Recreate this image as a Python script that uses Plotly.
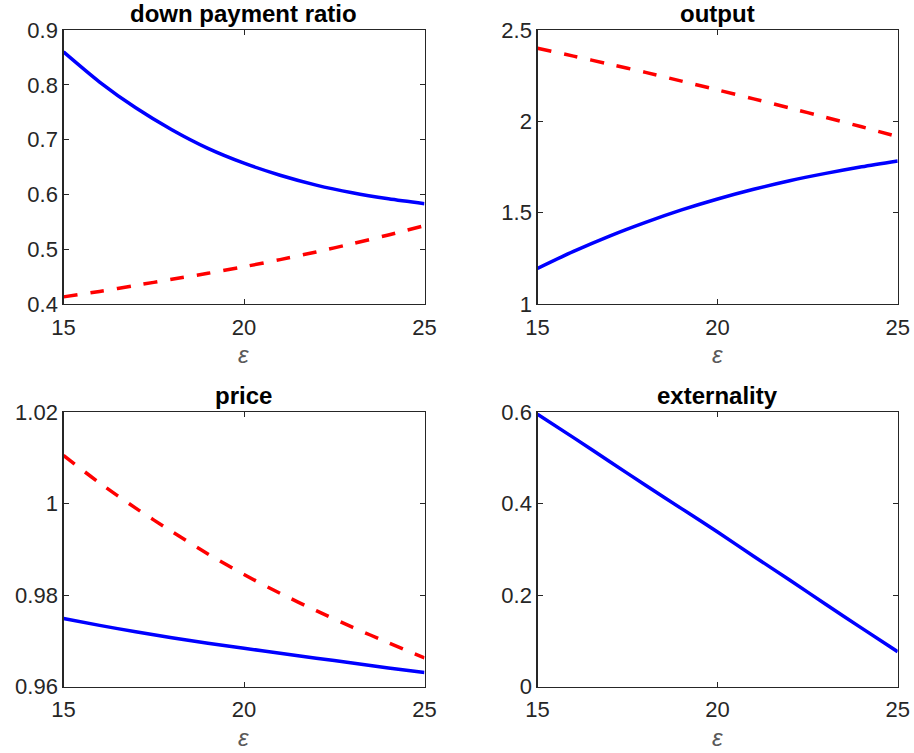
import plotly.graph_objects as go

# ---- data ----
eps = [15, 16, 17, 18, 19, 20, 21, 22, 23, 24, 25]

dpr_blue = [0.860, 0.805, 0.758, 0.718, 0.684, 0.657, 0.635, 0.617, 0.603, 0.592, 0.583]
dpr_red = [0.413, 0.423, 0.434, 0.445, 0.456, 0.468, 0.481, 0.495, 0.510, 0.526, 0.543]

out_blue = [1.195, 1.288, 1.372, 1.447, 1.515, 1.575, 1.628, 1.675, 1.715, 1.751, 1.783]
out_red = [2.400, 2.357, 2.313, 2.268, 2.220, 2.172, 2.123, 2.073, 2.022, 1.970, 1.916]

price_blue = [0.9749, 0.9734, 0.9720, 0.9707, 0.9695, 0.9684, 0.9673, 0.9662, 0.9652, 0.9641, 0.9631]
price_red = [1.0105, 1.0045, 0.9990, 0.9939, 0.9890, 0.9845, 0.9804, 0.9766, 0.9730, 0.9696, 0.9663]

ext_blue = [0.595, 0.544, 0.492, 0.440, 0.389, 0.338, 0.285, 0.233, 0.180, 0.128, 0.0765]

titles = ["down payment ratio", "output", "price", "externality"]
x_ticks = [15, 20, 25]
x_ticktext = ["15", "20", "25"]
y_ticks = [
    [0.4, 0.5, 0.6, 0.7, 0.8, 0.9],
    [1, 1.5, 2, 2.5],
    [0.96, 0.98, 1.0, 1.02],
    [0, 0.2, 0.4, 0.6],
]
y_ticktext = [
    ["0.4", "0.5", "0.6", "0.7", "0.8", "0.9"],
    ["1", "1.5", "2", "2.5"],
    ["0.96", "0.98", "1", "1.02"],
    ["0", "0.2", "0.4", "0.6"],
]
y_ranges = [[0.4, 0.9], [1, 2.5], [0.96, 1.02], [0, 0.6]]
x_label = "<i>ε</i>"

W, H = 914, 753
FONT = "Liberation Sans, Arial, sans-serif"
AXC = "#262626"

# plot-area boxes in pixels (left, right, top, bottom)
boxes = [
    (63.5, 424.5, 30, 304),
    (537.5, 897.7, 30, 304),
    (63.5, 424.5, 412, 686.7),
    (537.5, 897.7, 412, 686.7),
]

fig = go.Figure()

series = [
    [(dpr_blue, "blue"), (dpr_red, "red")],
    [(out_blue, "blue"), (out_red, "red")],
    [(price_blue, "blue"), (price_red, "red")],
    [(ext_blue, "blue")],
]

for i in range(4):
    xa = "x" if i == 0 else f"x{i+1}"
    ya = "y" if i == 0 else f"y{i+1}"
    for vals, col in series[i]:
        if col == "blue":
            line = dict(color="#0000FF", width=3.5, shape="spline", smoothing=0.8)
        else:
            line = dict(color="#FF0000", width=3.5, dash="14px,13px", shape="spline", smoothing=0.8)
        fig.add_trace(go.Scatter(x=eps, y=vals, mode="lines", line=line,
                                 xaxis=xa, yaxis=ya, showlegend=False, hoverinfo="skip"))

    l, r, t, b = boxes[i]
    xdom = [l / W, r / W]
    ydom = [1 - b / H, 1 - t / H]
    axis_common = dict(
        showline=True, mirror="ticks", linecolor=AXC, linewidth=1.2,
        ticks="inside", ticklen=5, tickwidth=1, tickcolor=AXC,
        showgrid=False, zeroline=False, automargin=False,
        tickfont=dict(family=FONT, size=22, color=AXC),
    )
    xkey = "xaxis" if i == 0 else f"xaxis{i+1}"
    ykey = "yaxis" if i == 0 else f"yaxis{i+1}"
    fig.update_layout({
        xkey: dict(domain=xdom, range=[15, 25], tickvals=x_ticks, ticktext=x_ticktext,
                   anchor=ya, ticklabelstandoff=3, **axis_common),
        ykey: dict(domain=ydom, range=y_ranges[i], tickvals=y_ticks[i], ticktext=y_ticktext[i],
                   anchor=xa, **axis_common),
    })
    # subplot title
    fig.add_annotation(text=f"<b>{titles[i]}</b>", xref="paper", yref="paper",
                       x=(xdom[0] + xdom[1]) / 2, y=ydom[1], xanchor="center", yanchor="bottom",
                       yshift=1, showarrow=False,
                       font=dict(family=FONT, size=24, color="#000000"))
    # x-axis label
    fig.add_annotation(text=x_label, xref="paper", yref="paper",
                       x=(xdom[0] + xdom[1]) / 2, y=ydom[0], xanchor="center", yanchor="bottom",
                       yshift=-66.3, showarrow=False,
                       font=dict(family=FONT, size=24, color="#595959"))

fig.update_layout(
    width=W, height=H, margin=dict(l=0, r=0, t=0, b=0),
    paper_bgcolor="white", plot_bgcolor="white", showlegend=False,
)

fig.write_html("out.html", config={"displayModeBar": False, "staticPlot": True},
               post_script="document.body.style.margin='0px';document.body.style.overflow='hidden';")
